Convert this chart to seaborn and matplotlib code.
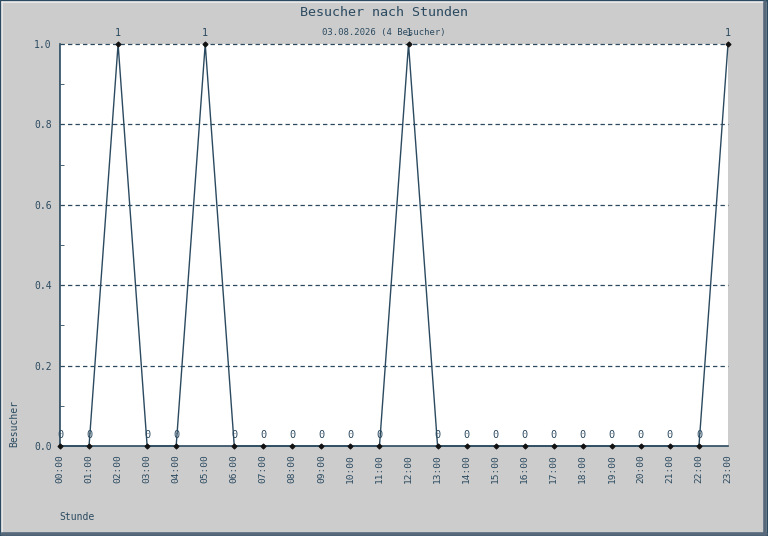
import numpy as np
import pandas as pd
import seaborn as sns
import matplotlib.pyplot as plt
from matplotlib.lines import Line2D

# ---- data ----
hours = list(range(24))
hour_labels = ["%02d:00" % h for h in hours]
visitors = [0, 0, 1, 0, 0, 1, 0, 0, 0, 0, 0, 0, 1, 0, 0, 0, 0, 0, 0, 0, 0, 0, 0, 1]

title = "Besucher nach Stunden"
subtitle = "03.08.2026 (4 Besucher)"

df = pd.DataFrame({"Stunde": hours, "Besucher": visitors})

ink = "#2b4a60"
bg = "#cccccc"

sns.set_style("white")
plt.rcParams['font.family'] = ['DejaVu Sans Mono']

fig = plt.figure(figsize=(7.68, 5.36), dpi=100, facecolor=bg)
ax = fig.add_axes([60 / 768, 90 / 536, 668 / 768, 402 / 536])
ax.set_facecolor("white")

sns.lineplot(data=df, x="Stunde", y="Besucher", ax=ax, color=ink, lw=1.0,
             marker="D", markersize=2.6, markeredgecolor="#111111",
             markerfacecolor="#111111", clip_on=False, zorder=5)

# value labels above points
for h, v in zip(hours, visitors):
    ax.annotate(str(v), (h, v), xytext=(0, 4), textcoords="offset points",
                ha="center", va="bottom", fontsize=7.4, color=ink,
                annotation_clip=False)

ax.set_xlim(0, 23)
ax.set_ylim(0, 1.0)
ax.set_xticks(hours)
ax.set_xticklabels(hour_labels, rotation=90, fontsize=6.8, color=ink)
ax.set_yticks(np.arange(0, 1.01, 0.2))
ax.set_yticklabels(["%.1f" % t for t in np.arange(0, 1.01, 0.2)], fontsize=7, color=ink)
ax.set_yticks(np.arange(0.1, 1.0, 0.2), minor=True)
ax.tick_params(axis="x", direction="in", length=5, color=ink, pad=6)
ax.tick_params(axis="y", which="major", direction="in", length=0, pad=6)
ax.tick_params(axis="y", which="minor", direction="in", length=3, color=ink, left=True)

for y in np.arange(0.2, 1.01, 0.2):
    ax.axhline(y, color=ink, lw=0.9, ls=(0, (3.5, 2.5)), zorder=1, clip_on=False)

for s in ["top", "right"]:
    ax.spines[s].set_visible(False)
for s in ["left", "bottom"]:
    ax.spines[s].set_color(ink)
    ax.spines[s].set_linewidth(1.2)

ax.set_xlabel("")
ax.set_ylabel("")

fig.text(384 / 768, 1 - 13 / 536, title, ha="center", va="center", fontsize=9.6, color=ink)
fig.text(384 / 768, 1 - 33 / 536, subtitle, ha="center", va="center", fontsize=6.4, color=ink)
fig.text(59 / 768, 1 - 517 / 536, "Stunde", ha="left", va="center", fontsize=7, color=ink)
fig.text(14 / 768, 1 - 447 / 536, "Besucher", ha="center", va="bottom", rotation=90,
         fontsize=7, color=ink)

# window frame: dark outline, light top/left bevel, dark bottom/right bevel
W, H = 768.0, 536.0
def fline(x0, y0, x1, y1, c, lw):
    fig.lines.append(Line2D([x0 / W, x1 / W], [1 - y0 / H, 1 - y1 / H],
                            transform=fig.transFigure, color=c, lw=lw, zorder=10))

fline(0.5, 0.5, 767.5, 0.5, "#2b4a60", 1.5)
fline(0.5, 0.5, 0.5, 535.5, "#2b4a60", 1.5)
fline(767.5, 0, 767.5, 536, "#2b4a60", 1.5)
fline(0, 535.5, 768, 535.5, "#2b4a60", 1.5)
fline(2, 2, 765, 2, "#eeeeee", 1.2)
fline(2, 2, 2, 533, "#eeeeee", 1.2)
fline(765, 2, 765, 534, "#56687a", 2.6)
fline(2, 533.5, 766, 533.5, "#56687a", 2.6)

fig.savefig("out.png", dpi=100, facecolor=bg)
